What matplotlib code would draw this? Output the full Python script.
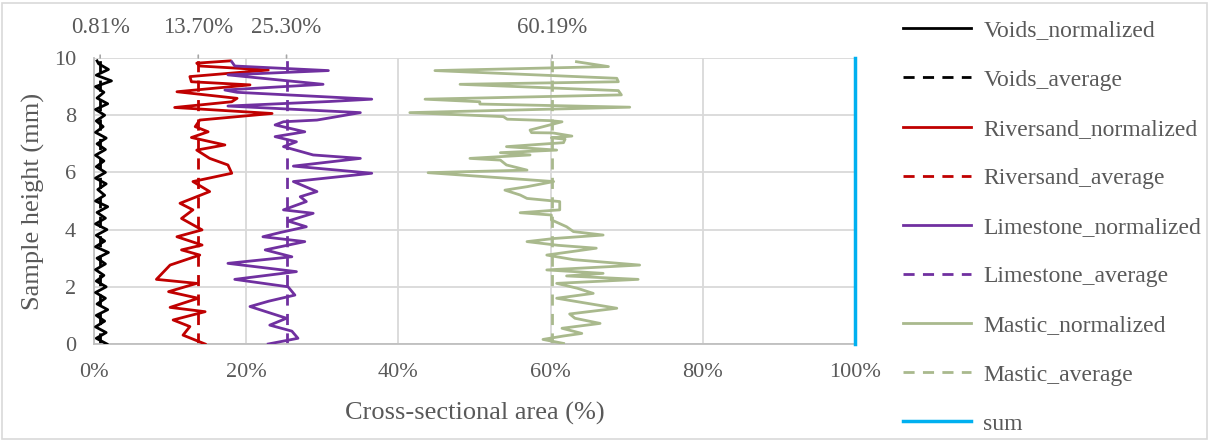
import matplotlib
matplotlib.use("Agg")
import matplotlib.pyplot as plt
from matplotlib.patches import Rectangle

plt.rcParams['font.family'] = ['Liberation Serif', 'DejaVu Serif']

# Cross-sectional area profiles (height in mm, area in %)
voids_h = [0.0, 0.2, 0.4, 0.6, 0.8, 1.0, 1.2, 1.4, 1.6, 1.8, 2.0, 2.2, 2.4, 2.6, 2.8,
           3.0, 3.2, 3.4, 3.6, 3.8, 4.0, 4.2, 4.4, 4.6, 4.8, 5.0, 5.2, 5.4, 5.6, 5.8,
           6.0, 6.2, 6.4, 6.6, 6.8, 7.0, 7.2, 7.4, 7.6, 7.8, 8.0, 8.2, 8.4, 8.6, 8.8,
           9.0, 9.2, 9.4, 9.6, 9.8, 9.9]
voids_v = [1.7, 0.3, 1.6, 0.2, 1.4, 0.3, 1.8, 0.4, 1.5, 0.2, 1.6, 0.3, 1.3, 0.2, 1.5,
           0.4, 1.9, 0.2, 1.4, 0.3, 1.7, 0.2, 1.5, 0.4, 1.8, 0.2, 1.4, 0.5, 1.6, 0.2,
           1.5, 0.3, 1.3, 0.2, 1.5, 0.4, 1.6, 0.2, 1.2, 0.3, 1.4, 0.2, 1.8, 0.4, 1.3,
           0.2, 2.3, 0.3, 1.9, 0.6, 0.4]

riversand_h = [9.90, 9.82, 9.72, 9.58, 9.35, 9.17, 9.06, 8.82, 8.59, 8.47, 8.27, 8.06,
               7.83, 7.60, 7.42, 7.22, 6.96, 6.78, 6.49, 6.26, 5.97, 5.68, 5.33, 4.92,
               4.69, 4.39, 3.99, 3.75, 3.46, 3.29, 3.11, 2.76, 2.26, 2.12, 1.83, 1.60,
               1.28, 1.13, 0.84, 0.61, 0.31, 0.0]
riversand_v = [17.9, 13.5, 13.9, 22.9, 12.6, 12.8, 20.5, 10.9, 18.8, 18.1, 10.6, 23.4,
               13.9, 13.3, 15.0, 12.8, 17.2, 13.5, 15.2, 17.6, 18.1, 13.0, 15.2, 11.3,
               13.0, 11.5, 14.2, 10.9, 14.2, 11.5, 13.9, 10.0, 8.2, 13.5, 9.8, 13.7,
               10.0, 14.6, 10.4, 12.6, 11.7, 14.6]

limestone_h = [9.87, 9.72, 9.56, 9.41, 9.08, 8.88, 8.80, 8.56, 8.48, 8.32, 8.09, 7.83,
               7.77, 7.66, 7.42, 7.25, 7.07, 6.90, 6.61, 6.49, 6.22, 5.97, 5.68, 5.33,
               5.15, 4.98, 4.69, 4.57, 4.30, 4.10, 3.90, 3.75, 3.58, 3.29, 3.05, 2.82,
               2.53, 2.26, 2.00, 1.71, 1.50, 1.31, 0.90, 0.66, 0.45, 0.20, 0.0]
limestone_v = [18.1, 18.5, 30.8, 17.6, 30.1, 17.2, 18.8, 36.5, 31.0, 17.6, 35.0, 29.3,
               24.9, 23.8, 27.7, 23.8, 26.6, 24.9, 28.8, 35.0, 26.2, 36.5, 26.2, 29.3,
               27.1, 27.9, 24.9, 28.8, 25.5, 27.9, 24.5, 22.2, 27.7, 22.5, 26.0, 17.6,
               26.6, 18.5, 25.5, 26.4, 23.0, 20.5, 25.3, 23.1, 26.0, 26.8, 22.9]

mastic_h = [9.87, 9.70, 9.56, 9.29, 9.17, 9.08, 8.86, 8.71, 8.56, 8.47, 8.39, 8.28,
            8.09, 7.95, 7.86, 7.81, 7.77, 7.48, 7.39, 7.38, 7.27, 7.21, 7.16, 7.04,
            6.90, 6.78, 6.69, 6.61, 6.49, 6.43, 6.26, 6.08, 5.99, 5.68, 5.50, 5.38,
            5.21, 5.09, 4.98, 4.69, 4.59, 4.51, 4.34, 4.10, 3.93, 3.81, 3.69, 3.58,
            3.45, 3.35, 3.11, 2.95, 2.76, 2.59, 2.47, 2.38, 2.26, 2.12, 1.95, 1.77,
            1.60, 1.25, 1.05, 0.90, 0.72, 0.55, 0.37, 0.28, 0.16, 0.02]
mastic_v = [63.4, 67.6, 44.8, 68.7, 68.9, 48.1, 68.9, 69.3, 43.5, 50.7, 50.7, 70.4,
            41.5, 53.8, 54.3, 59.9, 61.5, 57.3, 57.5, 60.3, 62.8, 60.1, 61.9, 61.7,
            54.2, 60.8, 53.4, 57.3, 49.4, 53.4, 54.2, 56.9, 43.9, 60.4, 56.9, 54.0,
            56.0, 56.9, 61.2, 61.2, 56.0, 60.1, 60.1, 62.1, 63.0, 66.9, 60.5, 56.9,
            61.0, 66.0, 59.5, 63.0, 71.7, 59.5, 66.9, 62.1, 71.5, 60.8, 63.5, 65.6,
            60.8, 68.7, 62.5, 63.2, 66.5, 61.5, 64.1, 61.7, 59.0, 61.7]

averages = [0.81, 13.70, 25.30, 60.19]
sum_v = 100.0
height_range = [0, 10]

names = ['Voids', 'Riversand', 'Limestone', 'Mastic']
colors = ['#000000', '#C00000', '#7030A0', '#A9B98D']
profiles = [(voids_h, voids_v), (riversand_h, riversand_v),
            (limestone_h, limestone_v), (mastic_h, mastic_v)]

W, H = 1210, 441
fig = plt.figure(figsize=(W / 100, H / 100), dpi=100)
ax = fig.add_axes([94 / W, 1 - 344 / H, (855 - 94) / W, (344 - 58) / H])

grid_c = '#D9D9D9'
text_c = '#595959'
lw = 2.0

handles = []
for name, col, (hh, vv), avg in zip(names, colors, profiles, averages):
    l1, = ax.plot(vv, hh, color=col, lw=lw, solid_joinstyle='round',
                  label=f'{name}_normalized', zorder=3)
    l2, = ax.plot([avg, avg], height_range, color=col, lw=lw, ls=(0, (4, 3)),
                  label=f'{name}_average', zorder=2)
    handles += [l1, l2]
    # value label with leader line above the plot
    ax.annotate(f'{avg:.2f}%', xy=(avg, 10), xytext=(avg, 11.05),
                ha='center', va='center', fontsize=16.5, color=text_c,
                annotation_clip=False,
                arrowprops=dict(arrowstyle='-', color='#A6A6A6', lw=1.2,
                                shrinkA=10, shrinkB=0))

ls, = ax.plot([sum_v, sum_v], height_range, color='#00B0F0', lw=2.5,
              label='sum', zorder=3, clip_on=False)
handles.append(ls)

ax.set_xlim(0, 100)
ax.set_ylim(0, 10)
ax.set_xticks(range(0, 101, 20))
ax.set_xticklabels([f'{t}%' for t in range(0, 101, 20)])
ax.set_yticks(range(0, 11, 2))
ax.grid(True, color=grid_c, lw=1.3, zorder=0)
ax.set_axisbelow(True)
for s in ['top', 'right']:
    ax.spines[s].set_visible(False)
for s in ['left', 'bottom']:
    ax.spines[s].set_color('#BFBFBF')
    ax.spines[s].set_linewidth(1.3)
ax.tick_params(axis='x', length=0, labelsize=16, labelcolor=text_c, pad=14)
ax.tick_params(axis='y', length=0, labelsize=16, labelcolor=text_c, pad=13)
ax.set_xlabel('Cross-sectional area (%)', fontsize=19, color=text_c, labelpad=14)
ax.set_ylabel('Sample height (mm)', fontsize=19, color=text_c, labelpad=6)

leg = fig.legend(handles=handles, loc='upper left', bbox_to_anchor=(903 / W, 1 - 20 / H),
                 frameon=False, fontsize=17, handlelength=2.9, labelspacing=1.17,
                 handletextpad=0.5, borderaxespad=0, borderpad=0)
for t in leg.get_texts():
    t.set_color(text_c)

fig.add_artist(Rectangle((2 / W, 2 / H), (W - 5) / W, (H - 5) / H,
                         transform=fig.transFigure, fill=False,
                         edgecolor='#D9D9D9', lw=1.2))

fig.savefig('out.png', dpi=100)
